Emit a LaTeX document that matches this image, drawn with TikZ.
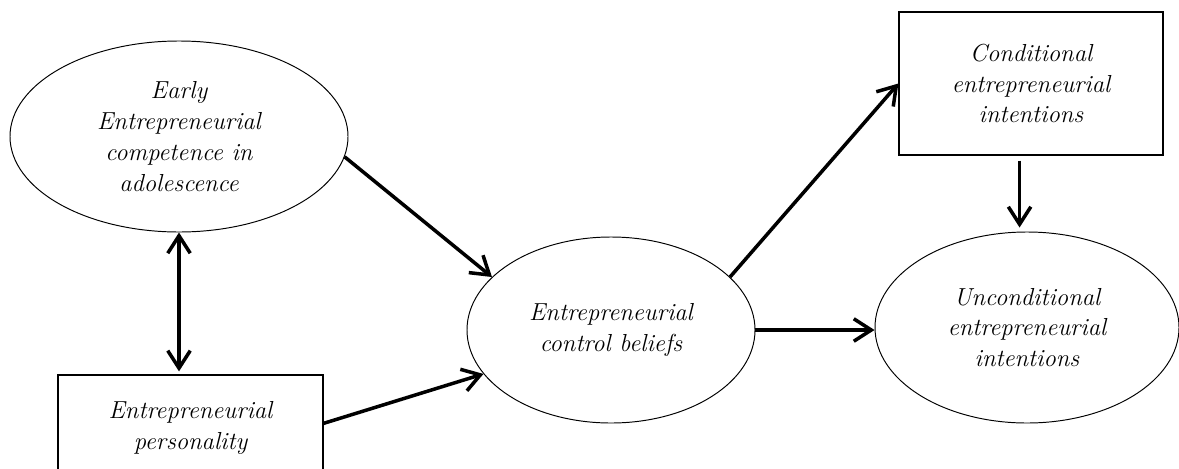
\documentclass[tikz,border=0pt]{standalone}
\usetikzlibrary{shapes.geometric,arrows.meta}

\begin{document}
\begin{tikzpicture}[x=0.2mm,y=-0.2mm,
	every node/.style={font=\fontsize{14}{17.5}\selectfont\itshape,align=center},
	oval/.style={draw,ellipse,inner sep=0pt,line width=0.55pt},
	box/.style={draw,rectangle,inner sep=0pt,line width=0.7pt},
	>={Straight Barb[length=3.5mm,width=4.5mm]},
	arr/.style={line width=2pt,->}]
			\useasboundingbox (0,0) rectangle (1179,468);
			\node[oval,minimum width=6.76cm,minimum height=3.82cm] (early) at (179,136.5) {Early\\Entrepreneurial\\competence in\\adolescence};
			\node[box,minimum width=5.3cm,minimum height=2.12cm] (pers) at (190.5,428) {Entrepreneurial\\personality};
			\node[oval,minimum width=5.76cm,minimum height=3.72cm] (ctrl) at (611,330) {Entrepreneurial\\control beliefs};
			\node[box,minimum width=5.28cm,minimum height=2.86cm] (cond) at (1031,83.5) {Conditional\\entrepreneurial\\intentions};
			\node[oval,minimum width=6.08cm,minimum height=3.82cm] (unc) at (1027,327.5) {Unconditional\\entrepreneurial\\intentions};
			\draw[arr] (early.-7) -- (ctrl.156);
			\draw[arr,<->,shorten >=0.6mm] (early.south) -- (early.south |- pers.north);
			\draw[arr] (pers.2) -- (ctrl.199);
			\draw[arr] (ctrl.24) -- (cond.west);
			\draw[arr] (ctrl.east) -- (ctrl.east -| unc.west);
			\draw[arr,shorten <=1mm,shorten >=0.8mm] (cond.-99.5) -- (cond.-99.5 |- unc.north);
		\end{tikzpicture}
\end{document}
